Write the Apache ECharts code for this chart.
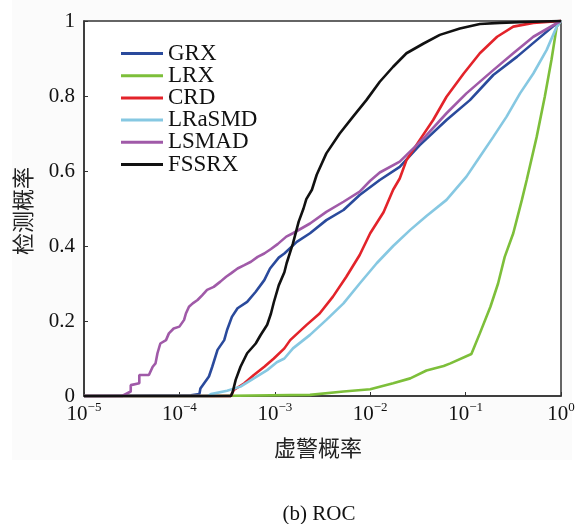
<!DOCTYPE html>
<html>
<head>
<meta charset="utf-8">
<script src="https://cdn.jsdelivr.net/npm/echarts@6/dist/echarts.min.js"></script>
<style>
  html, body { margin: 0; padding: 0; background: #ffffff; }
  #chart { width: 580px; height: 524px; }
</style>
</head>
<body>
<div id="chart"></div>
<script>
// ROC curves: false-alarm rate (log scale) vs detection probability
const seriesNames = ['GRX', 'LRX', 'CRD', 'LRaSMD', 'LSMAD', 'FSSRX'];
const seriesColors = ['#2a4a9c', '#7dbf3a', '#e3232a', '#86c8e2', '#a05aa8', '#111111'];

const xTicks = [1e-5, 1e-4, 1e-3, 1e-2, 1e-1, 1];
const yTicks = [0, 0.2, 0.4, 0.6, 0.8, 1];

const grxFpr = [1e-5, 1.32e-4, 1.62e-4, 1.66e-4, 2.04e-4, 2.21e-4, 2.51e-4, 2.95e-4, 3.16e-4, 3.55e-4, 4.07e-4, 5.13e-4, 6.31e-4, 7.76e-4, 8.91e-4, 1.10e-3, 1.26e-3, 1.70e-3, 2.34e-3, 3.47e-3, 5.25e-3, 7.76e-3, 0.0126, 0.0204, 0.0331, 0.0631, 0.111, 0.195, 0.347, 0.556, 0.902, 1];
const grxTpr = [0, 0.002, 0.005, 0.02, 0.052, 0.078, 0.123, 0.149, 0.176, 0.211, 0.234, 0.251, 0.278, 0.309, 0.34, 0.369, 0.38, 0.411, 0.434, 0.469, 0.496, 0.536, 0.576, 0.611, 0.669, 0.736, 0.789, 0.856, 0.905, 0.949, 0.994, 1];

const lrxFpr = [1e-5, 2.24e-4, 2.34e-3, 5.25e-3, 0.01, 0.0174, 0.0263, 0.0389, 0.0589, 0.0692, 0.115, 0.141, 0.182, 0.219, 0.257, 0.316, 0.343, 0.389, 0.437, 0.556, 0.676, 0.794, 0.902, 1];
const lrxTpr = [0, 0, 0.003, 0.012, 0.018, 0.034, 0.047, 0.068, 0.08, 0.087, 0.112, 0.167, 0.238, 0.30, 0.371, 0.434, 0.469, 0.523, 0.576, 0.691, 0.798, 0.896, 0.985, 1];

const crdFpr = [1e-5, 3.47e-4, 3.72e-4, 4.79e-4, 6.03e-4, 7.76e-4, 9.77e-4, 1.26e-3, 1.45e-3, 2.14e-3, 2.95e-3, 4.07e-3, 5.62e-3, 7.76e-3, 0.01, 0.0138, 0.0174, 0.0204, 0.024, 0.0331, 0.0457, 0.0631, 0.0955, 0.141, 0.214, 0.316, 0.513, 1];
const crdTpr = [0, 0, 0.016, 0.034, 0.056, 0.078, 0.10, 0.127, 0.149, 0.189, 0.22, 0.265, 0.318, 0.376, 0.434, 0.49, 0.55, 0.58, 0.629, 0.683, 0.736, 0.798, 0.86, 0.914, 0.958, 0.985, 0.995, 1];

const lrasmdFpr = [1e-5, 2.0e-4, 2.14e-4, 3.16e-4, 4.37e-4, 6.03e-4, 8.32e-4, 1.05e-3, 1.26e-3, 1.55e-3, 2.34e-3, 3.47e-3, 5.25e-3, 7.76e-3, 0.0117, 0.0174, 0.0263, 0.0389, 0.0631, 0.102, 0.141, 0.195, 0.269, 0.372, 0.513, 0.708, 0.902, 1];
const lrasmdTpr = [0, 0, 0.005, 0.014, 0.025, 0.047, 0.069, 0.09, 0.10, 0.127, 0.163, 0.203, 0.247, 0.30, 0.354, 0.40, 0.443, 0.48, 0.523, 0.585, 0.638, 0.691, 0.745, 0.807, 0.86, 0.923, 0.985, 1];

const lsmadFpr = [1e-5, 2.51e-5, 3.09e-5, 3.09e-5, 3.80e-5, 3.80e-5, 4.79e-5, 5.25e-5, 5.62e-5, 5.89e-5, 6.31e-5, 7.24e-5, 7.76e-5, 8.71e-5, 1.0e-4, 1.12e-4, 1.17e-4, 1.26e-4, 1.38e-4, 1.55e-4, 1.74e-4, 1.95e-4, 2.29e-4, 2.69e-4, 3.09e-4, 3.47e-4, 4.07e-4, 4.79e-4, 5.62e-4, 6.61e-4, 7.76e-4, 9.12e-4, 1.07e-3, 1.32e-3, 1.55e-3, 2.34e-3, 3.47e-3, 5.25e-3, 7.76e-3, 0.01, 0.0126, 0.0204, 0.0363, 0.0631, 0.102, 0.195, 0.316, 0.513, 0.902, 1];
const lsmadTpr = [0, 0, 0.012, 0.029, 0.034, 0.056, 0.056, 0.078, 0.087, 0.114, 0.14, 0.149, 0.167, 0.18, 0.185, 0.203, 0.22, 0.238, 0.247, 0.256, 0.269, 0.283, 0.291, 0.305, 0.318, 0.327, 0.34, 0.349, 0.358, 0.371, 0.38, 0.392, 0.405, 0.425, 0.434, 0.46, 0.491, 0.518, 0.545, 0.574, 0.596, 0.625, 0.687, 0.754, 0.807, 0.869, 0.914, 0.958, 0.994, 1];

const fssrxFpr = [1e-5, 3.47e-4, 3.63e-4, 3.89e-4, 4.37e-4, 5.13e-4, 6.31e-4, 7.08e-4, 8.32e-4, 9.12e-4, 9.77e-4, 1.10e-3, 1.26e-3, 1.33e-3, 1.55e-3, 1.78e-3, 2.0e-3, 2.14e-3, 2.45e-3, 2.75e-3, 3.47e-3, 4.79e-3, 6.61e-3, 9.12e-3, 0.0126, 0.0174, 0.024, 0.0363, 0.0537, 0.0871, 0.141, 0.229, 0.501, 1];
const fssrxTpr = [0, 0, 0.012, 0.043, 0.078, 0.114, 0.14, 0.162, 0.19, 0.22, 0.25, 0.295, 0.33, 0.354, 0.407, 0.465, 0.50, 0.525, 0.55, 0.59, 0.647, 0.70, 0.745, 0.789, 0.838, 0.878, 0.914, 0.94, 0.963, 0.98, 0.992, 0.995, 0.998, 1];

const fprLists = [grxFpr, lrxFpr, crdFpr, lrasmdFpr, lsmadFpr, fssrxFpr];
const tprLists = [grxTpr, lrxTpr, crdTpr, lrasmdTpr, lsmadTpr, fssrxTpr];

const latin = '"Liberation Serif", "Times New Roman", serif';
const cjk = '"Noto Sans CJK SC", "Liberation Serif", serif';

const chart = echarts.init(document.getElementById('chart'), null, { renderer: 'canvas' });

const series = seriesNames.map((name, i) => ({
  name,
  type: 'line',
  symbol: 'none',
  clip: false,
  data: fprLists[i].map((x, k) => [x, tprLists[i][k]]),
  lineStyle: { color: seriesColors[i], width: 2.6 },
  itemStyle: { color: seriesColors[i] },
  z: 2 + i
}));

chart.setOption({
  backgroundColor: '#ffffff',
  animation: false,
  graphic: [
    { type: 'rect', z: -10, silent: true, shape: { x: 12, y: 0, width: 560, height: 460 }, style: { fill: '#fbfbfb' } },
    { type: 'text', x: 318, y: 448, style: { text: '虚警概率', font: '22px ' + cjk, fill: '#222', align: 'center', verticalAlign: 'middle' } },
    { type: 'text', x: 23, y: 211, rotation: Math.PI / 2, style: { text: '检测概率', font: '22px ' + cjk, fill: '#222', align: 'center', verticalAlign: 'middle' } },
    { type: 'text', x: 319, y: 514, style: { text: '(b) ROC', font: '21px ' + latin, fill: '#111', align: 'center', verticalAlign: 'middle' } }
  ],
  grid: {
    left: 84, right: 19, top: 21, bottom: 128,
    show: true, backgroundColor: '#ffffff', borderColor: '#333', borderWidth: 1.5
  },
  legend: {
    orient: 'vertical',
    left: 121, top: 42,
    padding: 0,
    icon: 'rect',
    itemWidth: 42, itemHeight: 3, itemGap: -0.8,
    data: seriesNames,
    textStyle: { fontFamily: latin, fontSize: 23, color: '#111', lineHeight: 22 }
  },
  xAxis: {
    type: 'log', logBase: 10, min: xTicks[0], max: xTicks[xTicks.length - 1],
    axisLine: { show: true, lineStyle: { color: '#333', width: 1.5 } },
    axisTick: { show: true, inside: true, length: 4, lineStyle: { color: '#333' } },
    minorTick: { show: false },
    splitLine: { show: false },
    axisLabel: {
      margin: 5,
      formatter: (v) => {
        const e = Math.round(Math.log10(v));
        const sup = e < 0 ? '\u2212' + Math.abs(e) : String(e);
        return '{b|10}{s|' + sup + '}';
      },
      rich: {
        b: { fontFamily: latin, fontSize: 21, color: '#111', lineHeight: 24, verticalAlign: 'bottom' },
        s: { fontFamily: latin, fontSize: 13, color: '#111', lineHeight: 12, verticalAlign: 'top' }
      }
    }
  },
  yAxis: {
    type: 'value', min: yTicks[0], max: yTicks[yTicks.length - 1], interval: 0.2,
    axisLine: { show: true, lineStyle: { color: '#333', width: 1.5 } },
    axisTick: { show: true, inside: true, length: 4, lineStyle: { color: '#333' } },
    splitLine: { show: false },
    axisLabel: { margin: 9, fontFamily: latin, fontSize: 21, color: '#111' }
  },
  series
});
</script>
</body>
</html>
